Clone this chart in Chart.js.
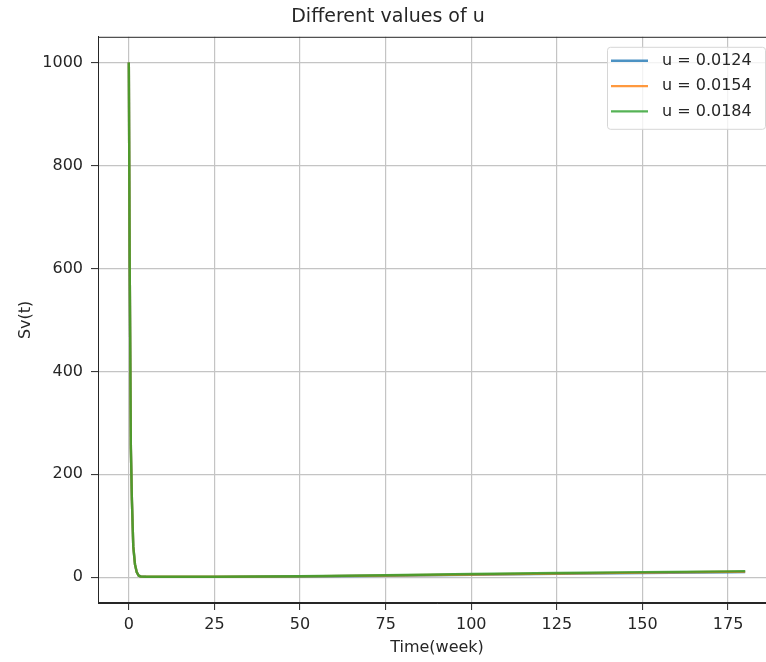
<!DOCTYPE html>
<html>
<head>
<meta charset="utf-8">
<script src="https://cdn.jsdelivr.net/npm/chart.js@4.4.1/dist/chart.umd.min.js"></script>
<style>
  html, body { margin: 0; padding: 0; background: #fff; overflow: hidden; }
  #wrap { width: 778px; height: 662px; }
</style>
</head>
<body>
<div id="wrap"><canvas id="c" width="778" height="662"></canvas></div>
<script>
// Sv(t) pour differentes valeurs de u
const TIMES = [0, 0.25, 0.6, 0.9, 1.3, 1.8, 2.3, 2.9, 3.5, 5, 10, 25, 50, 75, 100, 125, 150, 175, 180];
const SV_U0124 = [1000, 620, 250, 150, 60, 25, 10, 3, 1.5, 1, 0.8, 0.8, 1.4, 3.0, 4.8, 6.6, 8.2, 9.8, 10.1];
const SV_U0154 = [1000, 620, 250, 150, 60, 25, 10, 3, 1.5, 1, 0.9, 0.9, 1.7, 3.4, 5.4, 7.3, 9.0, 10.6, 10.9];
const SV_U0184 = [1000, 620, 250, 150, 60, 25, 10, 3, 1.5, 1, 1.0, 1.0, 2.0, 4.0, 6.4, 8.3, 10.0, 11.5, 11.9];
const LABELS = ['u = 0.0124', 'u = 0.0154', 'u = 0.0184'];
const COLORS = ['rgba(31,119,180,0.8)', 'rgba(255,127,14,0.8)', 'rgba(44,160,44,0.8)'];
const X_TICKS = [0, 25, 50, 75, 100, 125, 150, 175];
const Y_TICKS = [0, 200, 400, 600, 800, 1000];

const FONT = 'DejaVu Sans';
const TXT = '#262626';
const pts = ys => TIMES.map((t, i) => ({ x: t, y: ys[i] }));

// cadre complet (haut + droite) comme matplotlib
const framePlugin = {
  id: 'frame',
  afterDatasetsDraw(chart) {
    const { ctx, chartArea: a } = chart;
    ctx.save();
    ctx.strokeStyle = TXT;
    ctx.lineWidth = 1;
    ctx.strokeRect(a.left + 0.5, a.top + 0.5, a.right - a.left - 1, a.bottom - a.top - 1);
    ctx.restore();
  }
};

// legende dans le coin haut droit
const legendPlugin = {
  id: 'innerLegend',
  afterDraw(chart) {
    const { ctx, chartArea: a } = chart;
    const w = 158, h = 82;
    const x0 = a.right - 11 - w, y0 = a.top + 10;
    ctx.save();
    ctx.beginPath();
    ctx.roundRect(x0 + 0.5, y0 + 0.5, w, h, 3);
    ctx.fillStyle = 'rgba(255,255,255,0.8)';
    ctx.fill();
    ctx.strokeStyle = '#d6d6d6';
    ctx.lineWidth = 1;
    ctx.stroke();
    ctx.font = '16px "' + FONT + '"';
    ctx.textBaseline = 'middle';
    ctx.fillStyle = TXT;
    chart.data.datasets.forEach((ds, i) => {
      const yy = y0 + 14 + i * 25.3;
      ctx.strokeStyle = ds.borderColor;
      ctx.lineWidth = 2.4;
      ctx.beginPath();
      ctx.moveTo(x0 + 4, yy);
      ctx.lineTo(x0 + 41, yy);
      ctx.stroke();
      ctx.fillText(ds.label, x0 + 55, yy);
    });
    ctx.restore();
  }
};

new Chart(document.getElementById('c'), {
  type: 'line',
  data: {
    datasets: [SV_U0124, SV_U0154, SV_U0184].map((ys, i) => ({
      label: LABELS[i],
      data: pts(ys),
      borderColor: COLORS[i],
      borderWidth: 2.4,
      pointRadius: 0,
      tension: 0,
      fill: false,
      order: 2 - i
    }))
  },
  options: {
    responsive: false,
    animation: false,
    layout: { padding: { left: 0, right: 2, top: 0, bottom: 0 } },
    plugins: {
      legend: { display: false },
      tooltip: { enabled: false },
      title: {
        display: true,
        text: 'Different values of u',
        color: TXT,
        font: { family: FONT, size: 19, weight: 'normal' },
        padding: { top: 6, bottom: 8 }
      }
    },
    scales: {
      x: {
        type: 'linear',
        min: -9,
        max: 189,
        afterFit: s => { s.height = 59; },
        afterBuildTicks: s => { s.ticks = X_TICKS.map(v => ({ value: v })); },
        grid: { color: '#c4c4c4', lineWidth: 1.2, tickLength: 7, tickColor: TXT, tickWidth: 1 },
        border: { display: true, color: TXT, width: 1 },
        ticks: { color: TXT, padding: 5, maxRotation: 0, font: { family: FONT, size: 16 }, callback: v => String(v) },
        title: {
          display: true,
          text: 'Time(week)',
          color: TXT,
          font: { family: FONT, size: 16 },
          padding: { top: 0, bottom: 5 }
        }
      },
      y: {
        min: -50,
        max: 1050,
        afterFit: s => { s.width = 98; },
        afterBuildTicks: s => { s.ticks = Y_TICKS.map(v => ({ value: v })); },
        grid: { color: '#c4c4c4', lineWidth: 1.2, tickLength: 7, tickColor: TXT, tickWidth: 1 },
        border: { display: true, color: TXT, width: 1 },
        ticks: { color: TXT, padding: 8, font: { family: FONT, size: 16 }, callback: v => String(v) },
        title: {
          display: true,
          text: 'Sv(t)',
          color: TXT,
          font: { family: FONT, size: 16 },
          padding: { top: 16, bottom: 0 }
        }
      }
    }
  },
  plugins: [framePlugin, legendPlugin]
});
</script>
</body>
</html>
